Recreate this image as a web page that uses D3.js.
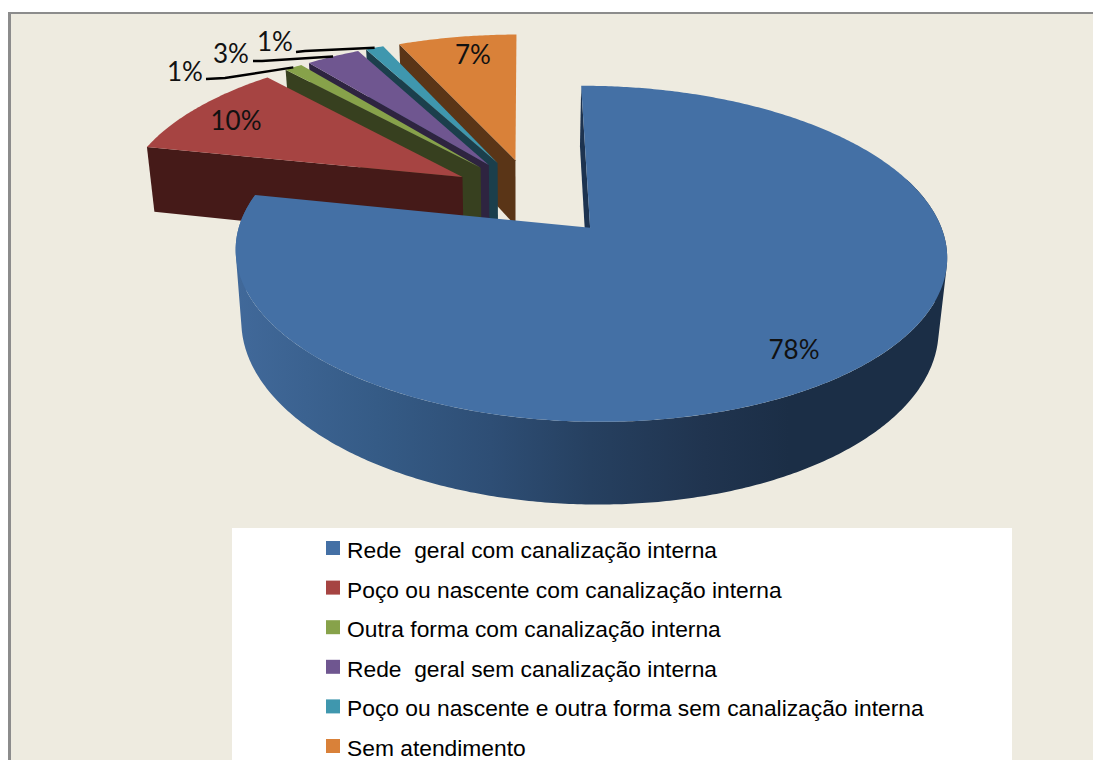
<!DOCTYPE html>
<html><head><meta charset="utf-8">
<script src="https://cdn.jsdelivr.net/npm/d3@7"></script>
<style>html,body{margin:0;padding:0;background:#fff;overflow:hidden}svg{display:block}</style>
</head><body><svg id="c" width="1093" height="760"></svg>
<script>
const categories = ["Rede  geral com canalização interna","Poço ou nascente com canalização interna","Outra forma com canalização interna","Rede  geral sem canalização interna","Poço ou nascente e outra forma sem canalização interna","Sem atendimento"];
const values = [78.4,10,1,3,1,6.6];
const labels = ["78%","10%","1%","3%","1%","7%"];
const topColors = ["#4470a5","#a64442","#87a24a","#6f5690","#3f97ae","#d98139"];
const wallColors = ["#1d3350","#451a18","#37401f","#2e2440","#1b3f4c","#5a3517"];

const svg = d3.select("#c");
const W=1093,H=760;
svg.append("rect").attr("x",8).attr("y",12).attr("width",W-8).attr("height",H-12).attr("fill","#8c8c8c");
svg.append("rect").attr("x",11).attr("y",14).attr("width",W-11).attr("height",H-14).attr("fill","#eeebe0");

// perspective projection of the tilted pie plane
const x0=535.4,y0=198.2,Rx=341.6,T=155,K=0.15,EXPLODE=0.24,LIFT=0.02,SHIFT=-0.01,MAIN_SHIFT=0.004,DEPTH=68,VX=520,NARROW=0.98,ROT=-0.3*Math.PI/180;
const proj=(X,U,low)=>{
  const s=1/(1+K*U);
  let x=x0+Rx*X*s, y=y0-T*U*s;
  if(low){x=VX+(x-VX)*NARROW; y+=DEPTH*s;}
  return [x,y];
};
const arcs=d3.pie().sort(null).value(d=>d).startAngle(ROT).endAngle(2*Math.PI+ROT)(values);
const pts=(a,low,from,to)=>{
  const mid=(a.startAngle+a.endAngle)/2;
  const ox=EXPLODE*Math.sin(mid)+(a.index>0?SHIFT:MAIN_SHIFT),oy=EXPLODE*Math.cos(mid)+(a.index>0?LIFT:0);
  const s0=from===undefined?a.startAngle:from, s1=to===undefined?a.endAngle:to;
  const n=Math.max(2,Math.ceil((s1-s0)/0.01));
  return {apex:proj(ox,oy,low),rim:d3.range(n+1).map(i=>{const t=s0+(s1-s0)*i/n;return proj(ox+Math.sin(t),oy+Math.cos(t),low);})};
};
const line=d3.line();
const defs=svg.append("defs");
const grad=defs.append("linearGradient").attr("id","wall").attr("gradientUnits","userSpaceOnUse").attr("x1",235).attr("x2",946).attr("y1",0).attr("y2",0);
[[0,"#41699a"],[0.2,"#355b86"],[0.36,"#2e4e75"],[0.5,"#264060"],[0.66,"#20344f"],[0.78,"#1b2e46"],[1,"#1b2e46"]].forEach(s=>grad.append("stop").attr("offset",s[0]).attr("stop-color",s[1]));

// draw from far to near
[5,4,3,2,1,0].forEach(i=>{
  const a=arcs[i];
  const top=pts(a,false), low=pts(a,true);
  const p=[top.apex,top.rim[0],low.rim[0],low.apex];
  svg.append("path").attr("d",line(p)+"Z").attr("fill",wallColors[i]);
  if(i===0){
    // outer wall swept as quads with one winding, so the silhouette is tangent at both extremes
    const near=pts(a,false,Math.PI*0.4,a.endAngle).rim, nearLow=pts(a,true,Math.PI*0.4,a.endAngle).rim;
    const d=d3.range(near.length-1).map(k=>{
      const q=[near[k],near[k+1],nearLow[k+1],nearLow[k]];
      return line(d3.polygonArea(q)<0?q.reverse():q)+"Z";
    }).join("");
    svg.append("path").attr("d",d).attr("fill","url(#wall)");
  }
  svg.append("path").attr("d",line([top.apex].concat(top.rim))+"Z").attr("fill",topColors[i]);
});

// leader lines
const leaders=[{i:2,from:[206,79],bend:[225,78]},{i:3,from:[253,61],bend:[262,61]},{i:4,from:[296,52],bend:[305,51]}];
leaders.forEach(l=>{
  const a=arcs[l.i];const mid=(a.startAngle+a.endAngle)/2;
  const tip=pts(a,false,mid,mid+0.001).rim[0];
  svg.append("path").attr("d",line([l.from,l.bend,tip])).attr("fill","none").attr("stroke","#000").attr("stroke-width",2.4);
});
// data labels
const labelPos=[[794,352],[236,123],[185,74],[231,56],[275,44],[473,57]];
labels.forEach((t,i)=>{
  svg.append("text").attr("x",labelPos[i][0]).attr("y",labelPos[i][1]).attr("text-anchor","middle").attr("dominant-baseline","middle")
    .attr("font-family","Lato,sans-serif").attr("font-size",26).attr("fill","#111").text(t);
});

// legend
svg.append("rect").attr("x",232).attr("y",528).attr("width",780).attr("height",232).attr("fill","#fff");
const ly=d3.scalePoint().domain(d3.range(categories.length)).range([550,748]);
categories.forEach((c,i)=>{
  svg.append("rect").attr("x",326).attr("y",ly(i)-9).attr("width",14).attr("height",14).attr("fill",topColors[i]);
  svg.append("text").attr("x",347).attr("y",ly(i)+8).style("white-space","pre")
    .attr("font-family","'Liberation Sans',Arial,sans-serif").attr("font-size",22.8).attr("fill","#000").text(c);
});
</script></body></html>
